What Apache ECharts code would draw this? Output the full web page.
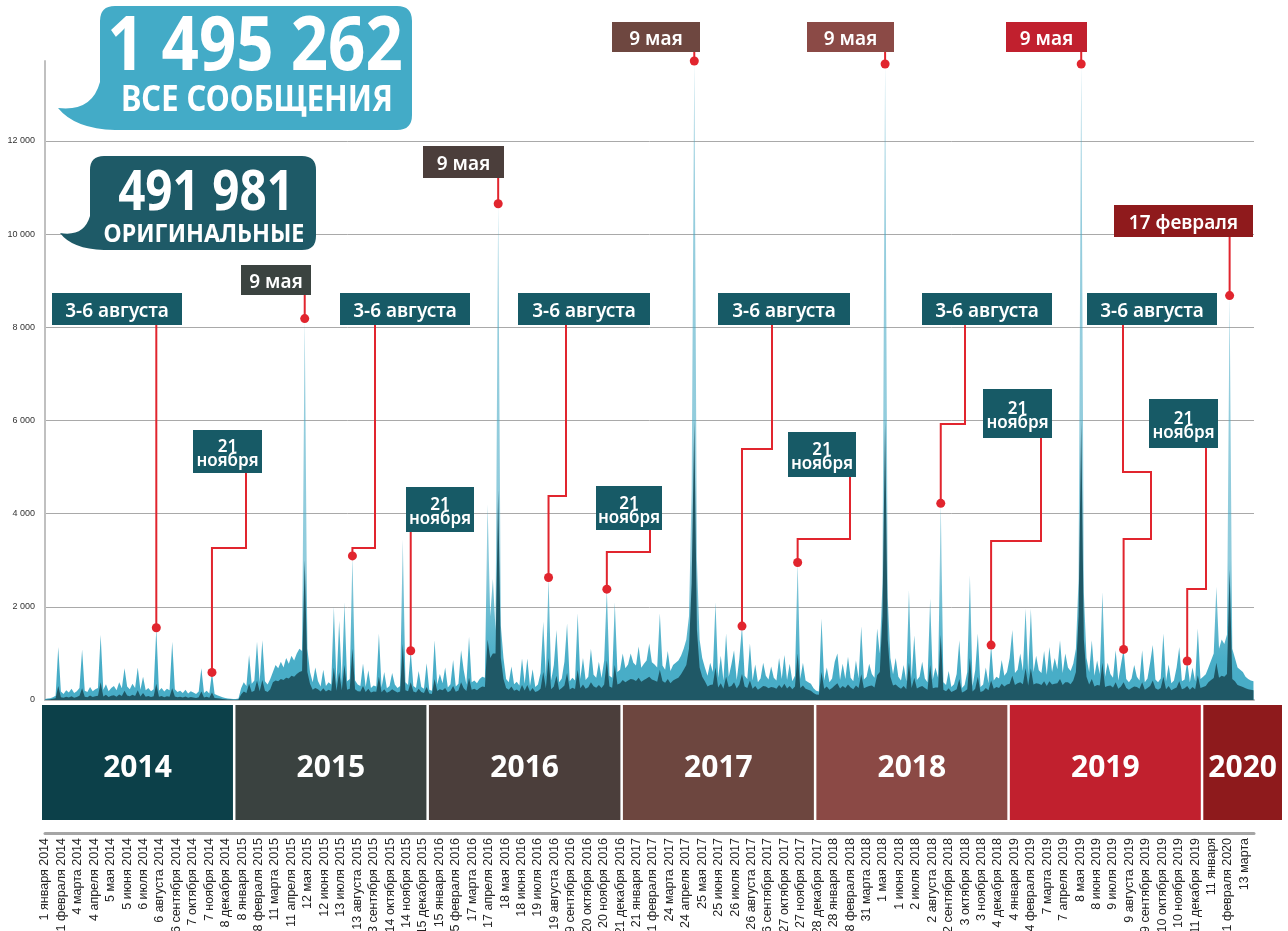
<!DOCTYPE html>
<html>
<head>
<meta charset="utf-8">
<script src="https://cdn.jsdelivr.net/npm/echarts@6/dist/echarts.min.js"></script>
<style>
html, body { margin: 0; padding: 0; background: #fff; }
#main { width: 1288px; height: 931px; }
</style>
</head>
<body>
<div id="main"></div>
<script>
// one sample every 5 days, day 0 = 1 января 2014
const stepDays = 5;
const lastDay = 2281;

// все сообщения
const allMsgs = [
  20, 30, 40, 60, 90, 1140, 180, 130, 210, 160,
  240, 150, 190, 260, 1085, 200, 170, 280, 190, 230,
  260, 1400, 220, 340, 190, 260, 300, 210, 380, 250,
  680, 290, 230, 350, 260, 700, 220, 500, 210, 260,
  190, 230, 1550, 200, 260, 180, 240, 210, 1250, 230,
  170, 200, 150, 220, 140, 190, 160, 130, 180, 680,
  150, 200, 140, 592, 130, 100, 80, 60, 45, 30,
  25, 20, 20, 30, 250, 380, 300, 965, 350, 420,
  1250, 380, 1285, 400, 330, 450, 600, 750, 680, 820,
  700, 900, 780, 950, 850, 1000, 1100, 1050, 8186, 1100,
  600, 380, 700, 410, 290, 650, 300, 380, 330, 2000,
  350, 1700, 380, 2100, 400, 450, 3093, 420, 330, 300,
  786, 280, 640, 260, 310, 290, 1428, 270, 600, 250,
  300, 580, 330, 260, 300, 3450, 380, 320, 1057, 300,
  260, 620, 280, 240, 790, 220, 200, 1285, 330, 560,
  360, 700, 270, 340, 860, 290, 350, 1070, 640, 330,
  1357, 380, 420, 360, 450, 500, 480, 4200, 1800, 2600,
  1500, 10650, 1600, 900, 450, 380, 720, 340, 390, 310,
  893, 350, 893, 300, 660, 280, 330, 580, 1680, 500,
  2629, 420, 750, 1500, 380, 460, 820, 1640, 400, 480,
  420, 1860, 450, 900, 430, 500, 1100, 540, 480, 820,
  470, 850, 2379, 520, 480, 2100, 600, 650, 1000, 680,
  760, 1000, 800, 740, 1150, 690, 780, 850, 1215, 810,
  760, 700, 1860, 740, 650, 1050, 620, 750, 800, 850,
  950, 1100, 1300, 1800, 4500, 13714, 3000, 1300, 900, 700,
  520, 800, 600, 2100, 480, 950, 420, 1428, 500, 760,
  1070, 430, 880, 1586, 520, 450, 1215, 420, 760, 380,
  460, 800, 520, 440, 720, 480, 420, 900, 450, 965,
  430, 780, 400, 520, 2950, 450, 800, 420, 380, 350,
  250, 200, 180, 1750, 420, 700, 380, 460, 820, 1000,
  430, 780, 450, 930, 480, 400, 850, 460, 1585, 440,
  500, 780, 560, 480, 1535, 1000, 2500, 13650, 2200, 900,
  550, 900, 500, 420, 750, 400, 2357, 460, 1390, 430,
  500, 820, 460, 380, 2178, 440, 700, 480, 4221, 380,
  320, 620, 280, 340, 560, 1285, 260, 320, 600, 2678,
  300, 640, 1428, 280, 330, 700, 360, 1179, 420, 500,
  460, 860, 520, 600, 900, 1500, 580, 650, 1000, 620,
  1960, 560, 1960, 600, 950, 640, 580, 1050, 540, 1140,
  600, 900, 660, 1285, 580, 1000, 700, 620, 780, 1100,
  2600, 13650, 2300, 900, 600, 1285, 520, 850, 560, 2320,
  500, 800, 560, 480, 1070, 420, 760, 1086, 450, 380,
  460, 750, 500, 420, 1070, 380, 460, 800, 1180, 440,
  380, 460, 1428, 400, 760, 360, 420, 700, 1140, 400,
  440, 836, 380, 700, 400, 1535, 450, 500, 550, 700,
  850, 1000, 2430, 1100, 1300, 1200, 1400, 8679, 1100, 900,
  700, 650, 600, 500, 450, 420, 400
];

// оригинальные
const origMsgs = [
  5, 10, 15, 25, 40, 300, 60, 50, 70, 55,
  80, 50, 65, 90, 250, 70, 60, 95, 65, 80,
  90, 380, 75, 110, 65, 90, 100, 70, 120, 85,
  200, 95, 80, 110, 85, 210, 75, 150, 70, 85,
  65, 80, 350, 70, 85, 60, 80, 70, 250, 75,
  60, 70, 55, 75, 50, 65, 55, 45, 60, 180,
  55, 70, 50, 160, 45, 35, 30, 22, 18, 12,
  10, 8, 8, 12, 120, 180, 150, 350, 170, 200,
  420, 190, 430, 200, 170, 230, 380, 420, 400, 450,
  430, 480, 460, 520, 500, 560, 600, 620, 3000, 600,
  350, 220, 260, 230, 180, 250, 185, 220, 195, 700,
  200, 600, 210, 750, 220, 240, 1100, 230, 190, 180,
  300, 170, 240, 160, 185, 175, 500, 165, 230, 155,
  180, 230, 195, 160, 180, 1200, 210, 190, 380, 180,
  160, 240, 170, 150, 280, 140, 130, 450, 195, 230,
  210, 260, 165, 200, 300, 175, 205, 380, 250, 195,
  480, 220, 240, 210, 260, 290, 280, 1300, 900, 1000,
  1000, 4500, 900, 450, 260, 220, 290, 200, 225, 185,
  320, 205, 320, 180, 260, 170, 195, 240, 600, 250,
  900, 230, 290, 520, 215, 255, 310, 580, 225, 265,
  235, 650, 250, 330, 240, 275, 380, 295, 265, 320,
  260, 330, 850, 290, 265, 750, 330, 360, 430, 380,
  420, 450, 440, 410, 480, 390, 430, 460, 500, 440,
  420, 390, 650, 410, 370, 450, 360, 420, 450, 480,
  550, 650, 750, 1100, 2500, 6000, 1500, 700, 500, 400,
  290, 320, 330, 700, 270, 360, 240, 500, 280, 300,
  380, 245, 330, 560, 290, 255, 420, 240, 300, 220,
  260, 300, 290, 250, 280, 270, 240, 320, 255, 350,
  245, 300, 230, 290, 1000, 255, 310, 240, 220, 200,
  150, 120, 110, 600, 240, 290, 220, 260, 310, 360,
  245, 300, 255, 330, 270, 230, 310, 260, 550, 250,
  280, 300, 310, 270, 530, 600, 1800, 6000, 1300, 500,
  310, 330, 280, 240, 300, 230, 800, 260, 480, 245,
  280, 300, 260, 220, 750, 250, 270, 270, 1400, 220,
  190, 250, 170, 200, 230, 450, 160, 190, 230, 900,
  180, 240, 500, 170, 195, 260, 210, 420, 240, 280,
  260, 350, 290, 330, 350, 520, 320, 360, 380, 340,
  680, 310, 680, 330, 360, 350, 320, 400, 300, 400,
  330, 350, 360, 450, 320, 380, 380, 340, 420, 600,
  1800, 6000, 1300, 500, 330, 450, 290, 320, 310, 800,
  280, 300, 310, 270, 380, 240, 290, 380, 255, 220,
  260, 290, 280, 240, 380, 220, 260, 300, 420, 250,
  220, 260, 500, 230, 300, 210, 240, 270, 400, 230,
  250, 300, 220, 280, 230, 530, 255, 280, 300, 380,
  430, 470, 800, 480, 520, 500, 560, 2800, 450, 400,
  320, 300, 280, 250, 230, 220, 210
];

// подписи оси, каждые 31 день
const tickLabels = [
  '1 января 2014', '1 февраля 2014', '4 марта 2014', '4 апреля 2014', '5 мая 2014', '5 июня 2014',
  '6 июля 2014', '6 августа 2014', '6 сентября 2014', '7 октября 2014', '7 ноября 2014', '8 декабря 2014',
  '8 января 2015', '8 февраля 2015', '11 марта 2015', '11 апреля 2015', '12 мая 2015', '12 июня 2015',
  '13 июля 2015', '13 августа 2015', '13 сентября 2015', '14 октября 2015', '14 ноября 2015', '15 декабря 2015',
  '15 января 2016', '15 февраля 2016', '17 марта 2016', '17 апреля 2016', '18 мая 2016', '18 июня 2016',
  '19 июля 2016', '19 августа 2016', '19 сентября 2016', '20 октября 2016', '20 ноября 2016', '21 декабря 2016',
  '21 января 2017', '21 февраля 2017', '24 марта 2017', '24 апреля 2017', '25 мая 2017', '25 июня 2017',
  '26 июля 2017', '26 августа 2017', '26 сентября 2017', '27 октября 2017', '27 ноября 2017', '28 декабря 2017',
  '28 января 2018', '28 февраля 2018', '31 марта 2018', '1 мая 2018', '1 июня 2018', '2 июля 2018',
  '2 августа 2018', '2 сентября 2018', '3 октября 2018', '3 ноября 2018', '4 декабря 2018', '4 января 2019',
  '4 февраля 2019', '7 марта 2019', '7 апреля 2019', '8 мая 2019', '8 июня 2019', '9 июля 2019',
  '9 августа 2019', '9 сентября 2019', '10 октября 2019', '10 ноября 2019', '11 декабря 2019', '11 января',
  '11 февраля 2020', '13 марта'
];

const yearNames = ['2014', '2015', '2016', '2017', '2018', '2019', '2020'];
const yearStarts = [0, 365, 730, 1096, 1461, 1826, 2191];

// выноски: день пика и подпись
const calloutDays = [210, 315, 490, 580, 690, 855, 950, 1060, 1225, 1315, 1420, 1585, 1690, 1785, 1955, 2035, 2155, 2235];
const calloutTexts = [
  '3-6 августа', '21\nноября', '9 мая', '3-6 августа', '21\nноября', '9 мая',
  '3-6 августа', '21\nноября', '9 мая', '3-6 августа', '21\nноября', '9 мая',
  '3-6 августа', '21\nноября', '9 мая', '3-6 августа', '21\nноября', '17 февраля'
];

// итоги в облачках
const totalTexts = ['1 495 262', 'ВСЕ СООБЩЕНИЯ', '491 981', 'ОРИГИНАЛЬНЫЕ'];

// layout of the callout boxes (px) and leader elbows
const TEAL = '#175a66';
const RED = '#e1252e';
const calloutLayout = [
  { box: [52, 293, 130, 32], color: TEAL, path: [] },
  { box: [193, 430, 69, 43], color: TEAL, path: [[246, 473], [246, 548]] },
  { box: [241, 265, 70, 30], color: '#3b4340', path: [] },
  { box: [340, 293, 130, 32], color: TEAL, path: [[375, 325], [375, 548]] },
  { box: [406, 487, 68, 45], color: TEAL, path: [] },
  { box: [423, 146, 81, 32], color: '#4b3e3b', path: [] },
  { box: [518, 293, 132, 32], color: TEAL, path: [[566, 325], [566, 496]] },
  { box: [596, 486, 66, 44], color: TEAL, path: [[650, 530], [650, 552]] },
  { box: [612, 22, 88, 30], color: '#6e4740', path: [] },
  { box: [718, 293, 132, 32], color: TEAL, path: [[772, 325], [772, 449]] },
  { box: [788, 432, 68, 45], color: TEAL, path: [[850, 477], [850, 539]] },
  { box: [807, 22, 87, 30], color: '#8b4a46', path: [] },
  { box: [922, 293, 130, 32], color: TEAL, path: [[965, 325], [965, 424]] },
  { box: [983, 389, 69, 49], color: TEAL, path: [[1041, 438], [1041, 541]] },
  { box: [1006, 22, 81, 30], color: '#c1202e', path: [] },
  { box: [1087, 293, 130, 32], color: TEAL, path: [[1123, 325], [1123, 472], [1151, 472], [1151, 539]] },
  { box: [1149, 399, 69, 49], color: TEAL, path: [[1206, 448], [1206, 589]] },
  { box: [1114, 205, 139, 32], color: '#8f1a1c', path: [] }
];

const bandColors = ['#0c4049', '#3a4240', '#4b3e3b', '#6d463f', '#8b4945', '#c1202e', '#8e1a1c'];

const chart = echarts.init(document.getElementById('main'));

function bubbleText(text, x, y, size, sx) {
  return {
    type: 'text', x: x, y: y, scaleX: sx,
    style: { text: text, fill: '#fff', fontSize: size, fontWeight: 'bold', fontFamily: 'Noto Sans', align: 'center', verticalAlign: 'middle' }
  };
}

const option = {
  backgroundColor: '#fff',
  animation: false,
  grid: [
    { left: 45, right: 34, top: 61, bottom: 231, containLabel: false, outerBoundsMode: 'none' },
    { left: 45, right: 34, top: 705, bottom: 98, containLabel: false, outerBoundsMode: 'none' }
  ],
  xAxis: [
    {
      type: 'value', gridIndex: 0, min: 0, max: lastDay,
      axisLine: { show: true, lineStyle: { color: '#b8b8b8', width: 2 } },
      axisTick: { show: false }, axisLabel: { show: false }, splitLine: { show: false }
    },
    {
      type: 'value', gridIndex: 1, min: 0, max: lastDay, interval: 31, position: 'bottom',
      axisLine: { show: true, onZero: false, lineStyle: { color: '#a5a5a5', width: 3 } },
      axisTick: { show: false }, splitLine: { show: false },
      axisLabel: {
        rotate: 90, margin: 5, fontSize: 12.5, fontFamily: 'Liberation Sans', color: '#222',
        formatter: v => (v % 31 === 0 && tickLabels[v / 31]) || ''
      }
    }
  ],
  yAxis: [
    {
      type: 'value', gridIndex: 0, min: 0, max: 13714, interval: 2000,
      axisLine: { show: true, lineStyle: { color: '#c0c0c0', width: 2 } },
      axisTick: { show: false },
      axisLabel: {
        showMaxLabel: false, margin: 10, fontSize: 9, fontFamily: 'Liberation Sans', color: '#333',
        formatter: v => (v === 0 ? '0' : (v / 1000) + ' 000')
      },
      splitLine: { show: true, showMaxLine: false, lineStyle: { color: '#a9a9a9', width: 1 } }
    },
    { type: 'value', gridIndex: 1, min: 0, max: 1, show: false }
  ],
  series: [
    {
      name: 'все', type: 'line', xAxisIndex: 0, yAxisIndex: 0,
      data: allMsgs.map((v, i) => [i * stepDays, v]),
      symbol: 'none', lineStyle: { width: 0 },
      areaStyle: {
        opacity: 1,
        color: new echarts.graphic.LinearGradient(0, 0, 0, 1, [
          { offset: 0, color: 'rgba(66,165,194,0.55)' },
          { offset: 0.78, color: 'rgba(70,170,197,0.6)' },
          { offset: 0.88, color: 'rgba(72,173,199,0.85)' },
          { offset: 0.94, color: 'rgba(72,173,199,1)' },
          { offset: 1, color: 'rgba(72,173,199,1)' }
        ])
      }
    },
    {
      name: 'оригинальные', type: 'line', xAxisIndex: 0, yAxisIndex: 0,
      data: origMsgs.map((v, i) => [i * stepDays, v]),
      symbol: 'none', lineStyle: { width: 0 },
      areaStyle: { opacity: 1, color: '#1f5866' }
    },
    {
      // годовые плашки
      type: 'custom', xAxisIndex: 1, yAxisIndex: 1, clip: false,
      encode: { x: [0, 1] },
      data: yearStarts.map((s, i) => [s, i + 1 < yearStarts.length ? yearStarts[i + 1] : lastDay, i]),
      renderItem: (params, api) => {
        const i = api.value(2);
        const x0 = api.coord([api.value(0), 0])[0] - 3;
        const x1 = i === yearNames.length - 1 ? api.getWidth() - 6 : api.coord([api.value(1), 0])[0] - 5.5;
        const top = params.coordSys.y;
        return {
          type: 'group',
          children: [
            { type: 'rect', shape: { x: x0, y: top, width: x1 - x0, height: 115 }, style: { fill: bandColors[i] } },
            {
              type: 'text', x: (x0 + x1) / 2, y: top + 63,
              style: {
                text: yearNames[i], fill: '#fff', fontSize: 30, fontWeight: 'bold', fontFamily: 'Noto Sans',
                align: 'center', verticalAlign: 'middle'
              }
            }
          ]
        };
      }
    },
    {
      // облачка с итогами
      type: 'custom', coordinateSystem: 'none', z: 10, silent: true,
      data: [[0]],
      renderItem: () => ({
        type: 'group',
        children: [
          {
            type: 'path',
            shape: { pathData: 'M115 6 H397 Q412 6 412 21 V115 Q412 130 397 130 H115 Q75 129 58 108 Q92 112 100 82 V21 Q100 6 115 6 Z' },
            style: { fill: '#43abc7' }
          },
          {
            type: 'path',
            shape: { pathData: 'M104 156 H302 Q316 156 316 170 V236 Q316 250 302 250 H104 Q72 249 60 233 Q84 237 90 216 V170 Q90 156 104 156 Z' },
            style: { fill: '#1e5a67' }
          },
          bubbleText(totalTexts[0], 255, 48, 76, 0.86),
          bubbleText(totalTexts[1], 257, 101, 35, 0.88),
          bubbleText(totalTexts[2], 206, 194, 56, 0.85),
          bubbleText(totalTexts[3], 204, 235, 25, 0.93)
        ]
      })
    }
  ]
};

chart.setOption(option);

// выноски с линиями к пикам
const graphics = [];
calloutDays.forEach((d, i) => {
  const lay = calloutLayout[i];
  const dot = chart.convertToPixel({ gridIndex: 0 }, [d, allMsgs[d / stepDays]]);
  const [bx, by, bw, bh] = lay.box;
  const pts = lay.path.slice();
  if (pts.length) pts.push([dot[0], pts[pts.length - 1][1]]);
  else pts.push([dot[0], by + bh]);
  pts.push(dot);
  const two = calloutTexts[i].indexOf('\n') > -1;
  graphics.push(
    { type: 'polyline', z: 50, shape: { points: pts }, style: { stroke: RED, lineWidth: 2, fill: null } },
    { type: 'rect', z: 51, shape: { x: bx, y: by, width: bw, height: bh }, style: { fill: lay.color } },
    { type: 'circle', z: 52, shape: { cx: dot[0], cy: dot[1], r: 4.5 }, style: { fill: RED } },
    {
      type: 'text', z: 53, x: bx + bw / 2, y: by + bh / 2 + (two ? 3 : 3),
      style: {
        text: calloutTexts[i], fill: '#fff', fontSize: two ? 17 : 19, fontWeight: 600, fontFamily: 'Noto Sans',
        lineHeight: 14, align: 'center', verticalAlign: 'middle'
      }
    }
  );
});

chart.setOption({ graphic: graphics });
</script>
</body>
</html>
